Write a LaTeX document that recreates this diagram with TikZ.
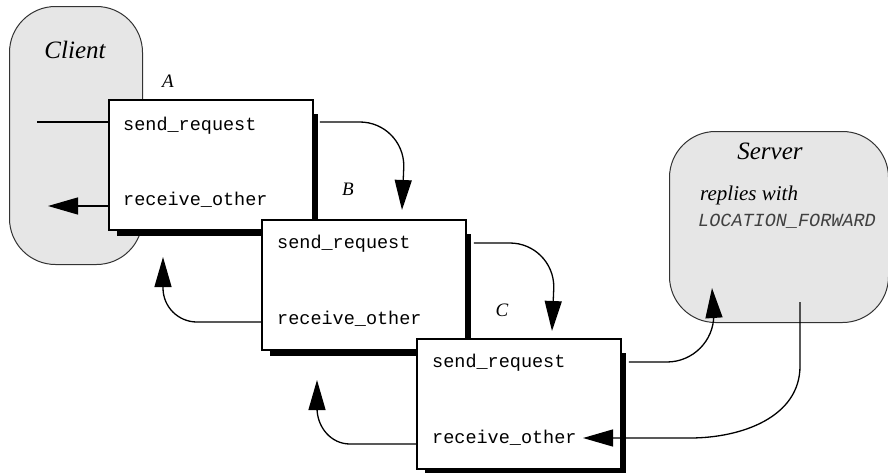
\documentclass[tikz,border=0pt]{standalone}
\usepackage{fontspec}
\setmainfont{Liberation Serif}
\setmonofont{Liberation Mono}
\usetikzlibrary{arrows.meta}
\definecolor{shellgray}{HTML}{E6E6E6}
\definecolor{rimgray}{HTML}{333333}

\begin{document}
\begin{tikzpicture}[x=1pt, y=-1pt,
    procbox/.style={draw, line width=1.8pt, fill=white, minimum width=204pt, minimum height=130pt, inner sep=0pt, anchor=north west},
    shell/.style={draw=rimgray, line width=1pt, fill=shellgray, rounded corners=46pt, inner sep=0pt, anchor=north west},
    opname/.style={font=\ttfamily\fontsize{18.5}{20}\selectfont, anchor=west, inner sep=0pt},
    tag/.style={font=\itshape\fontsize{19}{21}\selectfont, inner sep=0pt},
    conn/.style={line width=1.3pt},
    bigtip/.style={-{Triangle[length=30pt, width=17pt]}}]
    \useasboundingbox (0,0) rectangle (888,474);

    % Client and Server
    \node[shell, minimum width=133pt, minimum height=258pt] (client) at (9,6) {};
    \node[font=\itshape\fontsize{25}{28}\selectfont] (clientlbl) at (75,50) {Client};
    \node[shell, minimum width=219pt, minimum height=191pt] (server) at (669,131) {};
    \node[font=\itshape\fontsize{25}{28}\selectfont] (serverlbl) at (770,151) {Server};
    \node[font=\itshape\fontsize{21}{23}\selectfont, anchor=west, inner sep=0pt] (replies) at (700,195) {replies with};
    \node[font=\ttfamily\itshape\fontsize{18.5}{20}\selectfont, anchor=west, inner sep=0pt, black!75] (fwd) at (698,221) {LOCATION\_FORWARD};

    % Box A
    \coordinate (A) at (108,99);
    \fill ([shift={(9,15)}]A) rectangle ([shift={(210,137)}]A);
    \node[procbox] (boxA) at (A) {};
    \node[opname] (sendA) at ([shift={(15,27)}]A) {send\_request};
    \node[opname] (recvA) at ([shift={(15,101)}]A) {receive\_other};
    \node[tag] (tagA) at (168,81) {A};

    % Box B
    \coordinate (B) at (261,219);
    \fill ([shift={(9,15)}]B) rectangle ([shift={(210,137)}]B);
    \node[procbox] (boxB) at (B) {};
    \node[opname] (sendB) at ([shift={(16,25)}]B) {send\_request};
    \node[opname] (recvB) at ([shift={(16,100)}]B) {receive\_other};
    \node[tag] (tagB) at (348,189) {B};

    % Box C
    \coordinate (C) at (416,338);
    \fill ([shift={(9,15)}]C) rectangle ([shift={(210,135)}]C);
    \node[procbox] (boxC) at (C) {};
    \node[opname] (sendC) at ([shift={(16,25)}]C) {send\_request};
    \node[opname] (recvC) at ([shift={(16,100)}]C) {receive\_other};
    \node[tag] (tagC) at (502,310) {C};

    % Client <-> A
    \coordinate (callA) at (37,122);
    \coordinate (backA) at (48,206);
    \draw[conn] (callA) -- ([shift={(0,23)}]boxA.north west);
    \draw[conn, bigtip] ([shift={(0,107)}]boxA.north west) -- (backA);

    % forward requests
    \draw[conn, bigtip] ([shift={(6,23)}]boxA.north east) -- ++(40,0) to[out=0, in=90] ++(44,44) -- ([shift={(141,-9)}]boxB.north west);
    \draw[conn, bigtip] ([shift={(7,24)}]boxB.north east) -- ++(36,0) to[out=0, in=90] ++(44,44) -- ([shift={(136,-7)}]boxC.north west);
    \draw[conn, bigtip] ([shift={(7,24)}]boxC.north east) -- ++(38,0) to[out=0, in=-90] ++(47,-47) -- ([shift={(43,-35)}]server.south west);

    % replies going back
    \coordinate (backB) at (163,257);
    \coordinate (backC) at (317,380);
    \draw[conn, bigtip] ([shift={(21,-21)}]server.south) -- ++(0,64) to[out=-90, in=0] (690,438) -- ([shift={(167,100)}]boxC.north west);
    \draw[conn, bigtip] ([shift={(0,103)}]boxB.north west) -- ++(-64,0) to[out=180, in=-90] ++(-34,-34) -- (backB);
    \draw[conn, bigtip] ([shift={(0,106)}]boxC.north west) -- ++(-66,0) to[out=180, in=-90] ++(-33,-36) -- (backC);
\end{tikzpicture}
\end{document}
